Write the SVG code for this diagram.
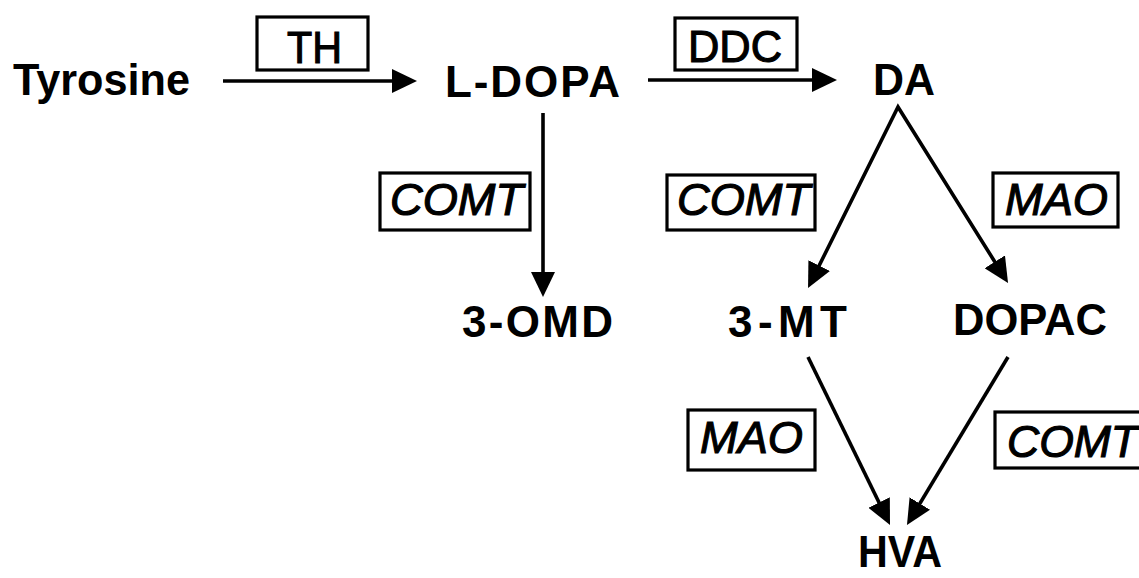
<svg xmlns="http://www.w3.org/2000/svg" width="1139" height="578" viewBox="0 0 1139 578">
<style>
.node{font-family:"Liberation Sans",Arial,sans-serif;font-weight:bold;font-size:44px;fill:#000}
.enz{font-family:"Liberation Sans",Arial,sans-serif;font-size:44px;fill:#000;stroke:#000;stroke-width:1.1}
.it{font-style:italic}
.box{fill:#fff;stroke:#000;stroke-width:3.2}
.conn{fill:none;stroke:#000;stroke-width:3.6;stroke-linejoin:miter}
</style>
<defs>
<marker id="ah" viewBox="0 0 25 24" refX="17" refY="12" markerWidth="25" markerHeight="24" markerUnits="userSpaceOnUse" orient="auto-start-reverse">
<path d="M0,0 L25,12 L0,24 z" fill="#000"/>
</marker>
</defs>
<rect width="1139" height="578" fill="#fff"/>
<g id="connectors">
<path class="conn" d="M223,81 L409,81" marker-end="url(#ah)"/>
<path class="conn" d="M648,80 L829,80" marker-end="url(#ah)"/>
<path class="conn" d="M543,113 L543,289" marker-end="url(#ah)"/>
<path class="conn" d="M811.6,280.8 L898,107 L1003.8,276.2" marker-start="url(#ah)" marker-end="url(#ah)"/>
<path class="conn" d="M808,357 L886.5,517.8" marker-end="url(#ah)"/>
<path class="conn" d="M1008,357 L911.1,518.1" marker-end="url(#ah)"/>
</g>
<g id="enz-TH"><rect class="box" x="257" y="17" width="111" height="53"/><text class="enz" x="287" y="63" textLength="55" lengthAdjust="spacingAndGlyphs">TH</text></g>
<g id="enz-DDC"><rect class="box" x="675" y="18" width="122" height="52"/><text class="enz" x="688" y="62" textLength="94" lengthAdjust="spacingAndGlyphs">DDC</text></g>
<g id="enz-COMT1"><rect class="box" x="380" y="173" width="150" height="57"/><text class="enz it" x="390" y="215" textLength="133" lengthAdjust="spacingAndGlyphs">COMT</text></g>
<g id="enz-COMT2"><rect class="box" x="667" y="175" width="148" height="55"/><text class="enz it" x="677" y="215" textLength="133" lengthAdjust="spacingAndGlyphs">COMT</text></g>
<g id="enz-MAO1"><rect class="box" x="993" y="173" width="125" height="54"/><text class="enz it" x="1005" y="215" textLength="103" lengthAdjust="spacingAndGlyphs">MAO</text></g>
<g id="enz-MAO2"><rect class="box" x="688" y="410" width="127" height="60"/><text class="enz it" x="700" y="453" textLength="103" lengthAdjust="spacingAndGlyphs">MAO</text></g>
<g id="enz-COMT3"><rect class="box" x="995" y="412" width="160" height="56"/><text class="enz it" x="1007" y="457" textLength="131" lengthAdjust="spacingAndGlyphs">COMT</text></g>
<g id="node-Tyrosine"><text class="node" x="13" y="95" textLength="177" lengthAdjust="spacingAndGlyphs">Tyrosine</text></g>
<g id="node-LDOPA"><text class="node" x="445" y="97" textLength="175" lengthAdjust="spacing">L-DOPA</text></g>
<g id="node-DA"><text class="node" x="873" y="95" textLength="62" lengthAdjust="spacingAndGlyphs">DA</text></g>
<g id="node-3OMD"><text class="node" x="462" y="337" textLength="151" lengthAdjust="spacing">3-OMD</text></g>
<g id="node-3MT"><text class="node" x="728" y="337" textLength="119" lengthAdjust="spacing">3-MT</text></g>
<g id="node-DOPAC"><text class="node" x="953" y="335" textLength="154" lengthAdjust="spacingAndGlyphs">DOPAC</text></g>
<g id="node-HVA"><text class="node" x="858" y="567" textLength="84" lengthAdjust="spacingAndGlyphs">HVA</text></g>
</svg>
